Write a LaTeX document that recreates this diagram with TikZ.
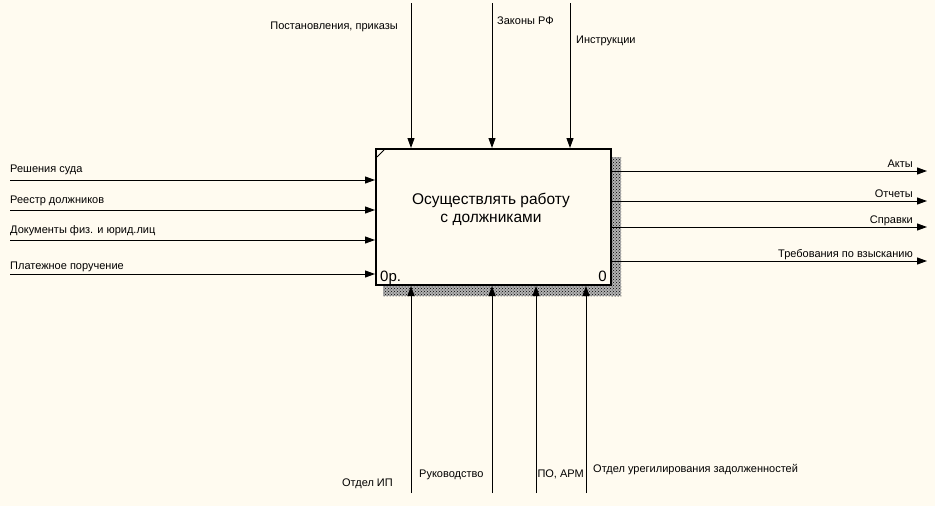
\documentclass[tikz,border=0pt]{standalone}
\usepackage{fontspec}
\setmainfont{Liberation Sans}
\usepackage{tikz}
\usepackage{xcolor}
\usetikzlibrary{arrows.meta,patterns}

\definecolor{paper}{RGB}{255,251,240}

\begin{document}
\begin{tikzpicture}
  [x=1pt,y=-1pt,every node/.style={inner sep=0pt,font=\fontsize{11}{13}\selectfont},
   flow/.style={-{Triangle[length=10pt,width=7pt]},line width=1pt},
   shade/.style={fill=black!30,postaction={pattern=crosshatch dots,pattern color=black}}]

  \fill[paper] (0,0) rectangle (935,506);

  % shadow and activity box
  \path[shade] (611,157) rectangle (621,296);
  \path[shade] (383,285) rectangle (621,296);
  \node[draw,line width=2pt,fill=paper,minimum width=235pt,minimum height=136pt] (act) at (493.5,217) {};
  \draw[line width=1pt] (377,157) -- (384,150);

  \node[anchor=base,font=\fontsize{15.5}{18}\selectfont] (t1) at (491,204) {Осуществлять работу};
  \node[anchor=base,font=\fontsize{15.5}{18}\selectfont] (t2) at (491,222) {с должниками};
  \node[anchor=base west,font=\fontsize{15}{18}\selectfont] (num) at (380,281) {0р.};
  \node[anchor=base east,font=\fontsize{15}{18}\selectfont] (nod) at (607,281) {0};

  % inputs
  \foreach \n/\y in {1/180,2/210,3/240,4/274}
    \coordinate (i\n) at (10,\y);
  \foreach \n in {1,...,4}
    \draw[flow] (i\n) -- (i\n -| act.west);
  \node[anchor=base west] (li1) at (10,172) {Решения суда};
  \node[anchor=base west] (li2) at (10,203) {Реестр должников};
  \node[anchor=base west] (li3) at (10,233) {Документы физ. и юрид.лиц};
  \node[anchor=base west] (li4) at (10,269) {Платежное поручение};

  % outputs
  \foreach \n/\y in {1/171,2/201,3/227,4/261}
    \coordinate (o\n) at (927,\y);
  \foreach \n in {1,...,4}
    \draw[flow] (o\n -| act.east) -- (o\n);
  \node[anchor=base east] (lo1) at (913,167) {Акты};
  \node[anchor=base east] (lo2) at (913,197) {Отчеты};
  \node[anchor=base east] (lo3) at (913,223) {Справки};
  \node[anchor=base east] (lo4) at (913,257) {Требования по взысканию};

  % controls
  \foreach \n/\x in {1/411,2/492,3/570}
    \coordinate (c\n) at (\x,3);
  \foreach \n in {1,2,3}
    \draw[flow] (c\n) -- (c\n |- act.north);
  \node[anchor=base east] (lc1) at (398,29) {Постановления, приказы};
  \node[anchor=base west] (lc2) at (497,24) {Законы РФ};
  \node[anchor=base west] (lc3) at (576,43) {Инструкции};

  % mechanisms
  \foreach \n/\x in {1/411,2/492,3/536,4/586}
    \coordinate (m\n) at (\x,493);
  \foreach \n in {1,...,4}
    \draw[flow] (m\n) -- (m\n |- act.south);
  \node[anchor=base east] (lm1) at (393,486) {Отдел ИП};
  \node[anchor=base west] (lm2) at (419,477) {Руководство};
  \node[anchor=base east] (lm3) at (584,477) {ПО, АРМ};
  \node[anchor=base west] (lm4) at (593,472) {Отдел урегилирования задолженностей};
\end{tikzpicture}
\end{document}
